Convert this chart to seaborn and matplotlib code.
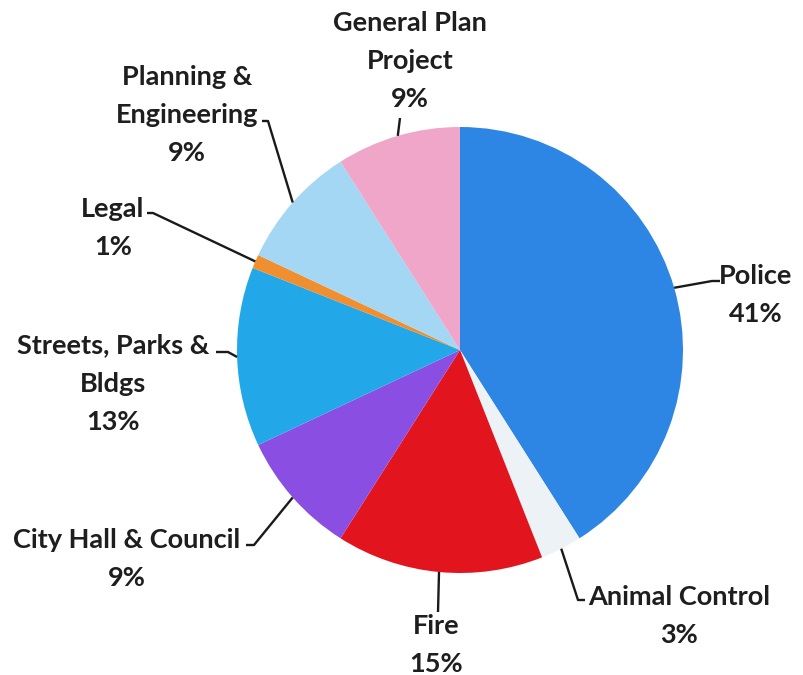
import matplotlib
matplotlib.use("Agg")
import matplotlib.pyplot as plt
import seaborn as sns
import numpy as np

# ---- data ----
categories = ["Police", "Animal Control", "Fire", "City Hall & Council",
              "Streets, Parks &\nBldgs", "Legal", "Planning &\nEngineering",
              "General Plan\nProject"]
shares = [41, 3, 15, 9, 13, 1, 9, 9]
pct_labels = ["41%", "3%", "15%", "9%", "13%", "1%", "9%", "9%"]

# ---- style ----
colors = ["#2e86e4", "#edf2f7", "#e2141d", "#8a4fe2", "#22a8e8",
          "#f08f30", "#a3d7f3", "#f0a6c9"]

sns.set_theme(style="white")
plt.rcParams['font.family'] = ['Lato', 'DejaVu Sans']

W, H = 804, 675
fig = plt.figure(figsize=(W / 100, H / 100), dpi=100)
ax = fig.add_axes([0, 0, 1, 1])

cx, cy, R = 460, H - 350, 223
wedges, _ = ax.pie(shares, colors=colors, startangle=90, counterclock=False,
                   center=(cx, cy), radius=R, frame=True,
                   wedgeprops=dict(linewidth=0))
ax.set_xlim(0, W)
ax.set_ylim(0, H)
ax.set_aspect('equal')
ax.axis('off')

# layout: text centre (pixel coords, y down), leader elbow & end
layout = [
    dict(text=(756, 295), path=[(712, 281), (720, 281)]),      # Police
    dict(text=(679, 616), path=[(578, 600), (585, 600)]),      # Animal
    dict(text=(436, 645), path=[(438, 612)]),                  # Fire
    dict(text=(127, 559), path=[(254, 545), (246, 545)]),      # City Hall
    dict(text=(113, 384), path=[(228, 352), (216, 352)]),      # Streets
    dict(text=(113, 228), path=[(153, 213), (147, 213)]),      # Legal
    dict(text=(187, 115), path=[(268, 121), (262, 121)]),      # Planning
    dict(text=(410, 61), path=[(400, 118)]),                   # General Plan
]

for w, cat, pct, lay in zip(wedges, categories, pct_labels, layout):
    ang = np.deg2rad((w.theta1 + w.theta2) / 2)
    ex, ey = cx + R * np.cos(ang), cy + R * np.sin(ang)
    xs = [ex] + [p[0] for p in lay["path"]]
    ys = [ey] + [H - p[1] for p in lay["path"]]
    ax.plot(xs, ys, color="#1a1a1a", lw=1.7, solid_capstyle="butt")
    tx, ty = lay["text"]
    ax.text(tx, H - ty, f"{cat}\n{pct}", ha="center", va="center",
            fontsize=19.5, fontweight="bold", color="#1e1e1e",
            linespacing=1.72)

fig.savefig("out.png", dpi=100, facecolor="white")
